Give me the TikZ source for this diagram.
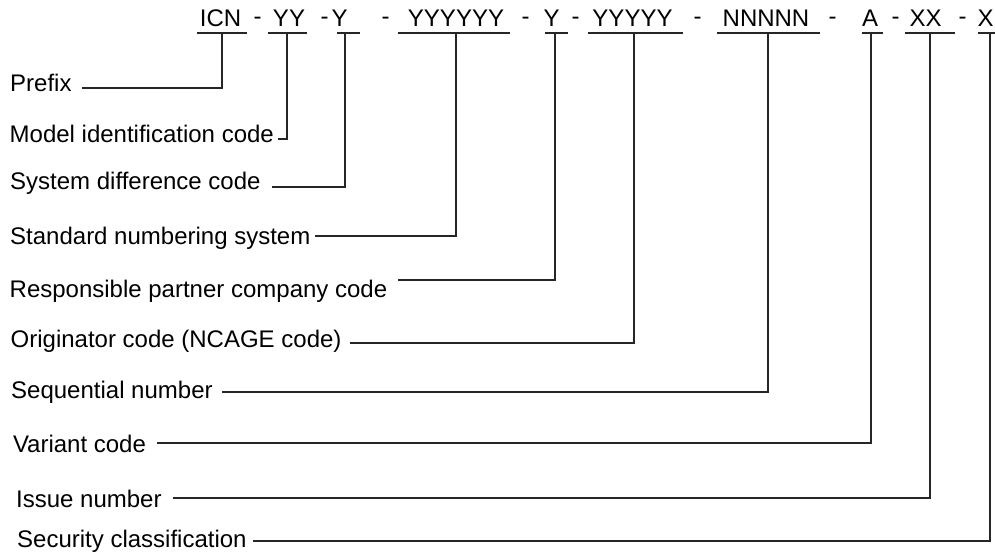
\documentclass[tikz,border=0pt]{standalone}
\usepackage{fontspec}
\setmainfont{Liberation Sans}
\begin{document}
\begin{tikzpicture}[x=1pt,y=-1pt,
  txt/.style={inner sep=0pt, font=\fontsize{24}{28}\selectfont},
  code/.style={txt, anchor=base},
  lab/.style={txt, anchor=base west},
  rule/.style={line width=1.1pt, draw=black!85},
  lead/.style={line width=1.1pt, draw=black!85}]
\useasboundingbox (0,0) rectangle (995,553);

% ICN code fields
\node[code] (f1)  at (220.5,27) {ICN};
\node[code] (f2)  at (289,27)   {YY};
\node[code] (f3)  at (339.5,27) {Y};
\node[code] (f4)  at (456,27)   {YYYYYY};
\node[code] (f5)  at (551.5,27) {Y};
\node[code] (f6)  at (632.5,27) {YYYYY};
\node[code] (f7)  at (766,27)   {NNNNN};
\node[code] (f8)  at (870,27)   {A};
\node[code] (f9)  at (925.5,27) {XX};
\node[code] (f10) at (985.5,27) {X};

% separators
\foreach \i/\x in {1/257.5,2/324.5,3/385.5,4/525.5,5/575.5,6/697.5,7/832.5,8/895.5,9/962.5}
  \node[code] (d\i) at (\x,24.5) {-};

% underlines below each field, with the tap point of each leader
\draw[rule] (197,33) -- (247,33);  \coordinate (b1)  at (222,33);
\draw[rule] (268,33) -- (307,33);  \coordinate (b2)  at (287,33);
\draw[rule] (337,33) -- (360,33);  \coordinate (b3)  at (345,33);
\draw[rule] (398,33) -- (510,33);  \coordinate (b4)  at (456,33);
\draw[rule] (545,33) -- (568,33);  \coordinate (b5)  at (555,33);
\draw[rule] (588,33) -- (683,33);  \coordinate (b6)  at (634,33);
\draw[rule] (717,33) -- (820,33);  \coordinate (b7)  at (768,33);
\draw[rule] (862,33) -- (883,33);  \coordinate (b8)  at (871,33);
\draw[rule] (905,33) -- (955,33);  \coordinate (b9)  at (930,33);
\draw[rule] (978,33) -- (995,33);  \coordinate (b10) at (990,33);

% field descriptions
\node[lab] (l1)  at (10,92)    {Prefix};
\node[lab] (l2)  at (9.5,143)  {Model identification code};
\node[lab] (l3)  at (10,190)   {System difference code};
\node[lab] (l4)  at (10,245)   {Standard numbering system};
\node[lab] (l5)  at (9.5,297)  {Responsible partner company code};
\node[lab] (l6)  at (10.5,347) {Originator code (NCAGE code)};
\node[lab] (l7)  at (11,398)   {Sequential number};
\node[lab] (l8)  at (12.8,452) {Variant code};
\node[lab] (l9)  at (16,507)   {Issue number};
\node[lab] (l10) at (17,547)   {Security classification};

% leader start points
\coordinate (s1)  at (82,88);
\coordinate (s2)  at (278,139);
\coordinate (s3)  at (272,187);
\coordinate (s4)  at (315,236);
\coordinate (s5)  at (398,280);
\coordinate (s6)  at (350,343);
\coordinate (s7)  at (222,392);
\coordinate (s8)  at (157,443);
\coordinate (s9)  at (173,498);
\coordinate (s10) at (253,541);

% leaders
\foreach \i in {1,...,10}
  \draw[lead] (s\i) -| (b\i);
\end{tikzpicture}
\end{document}
